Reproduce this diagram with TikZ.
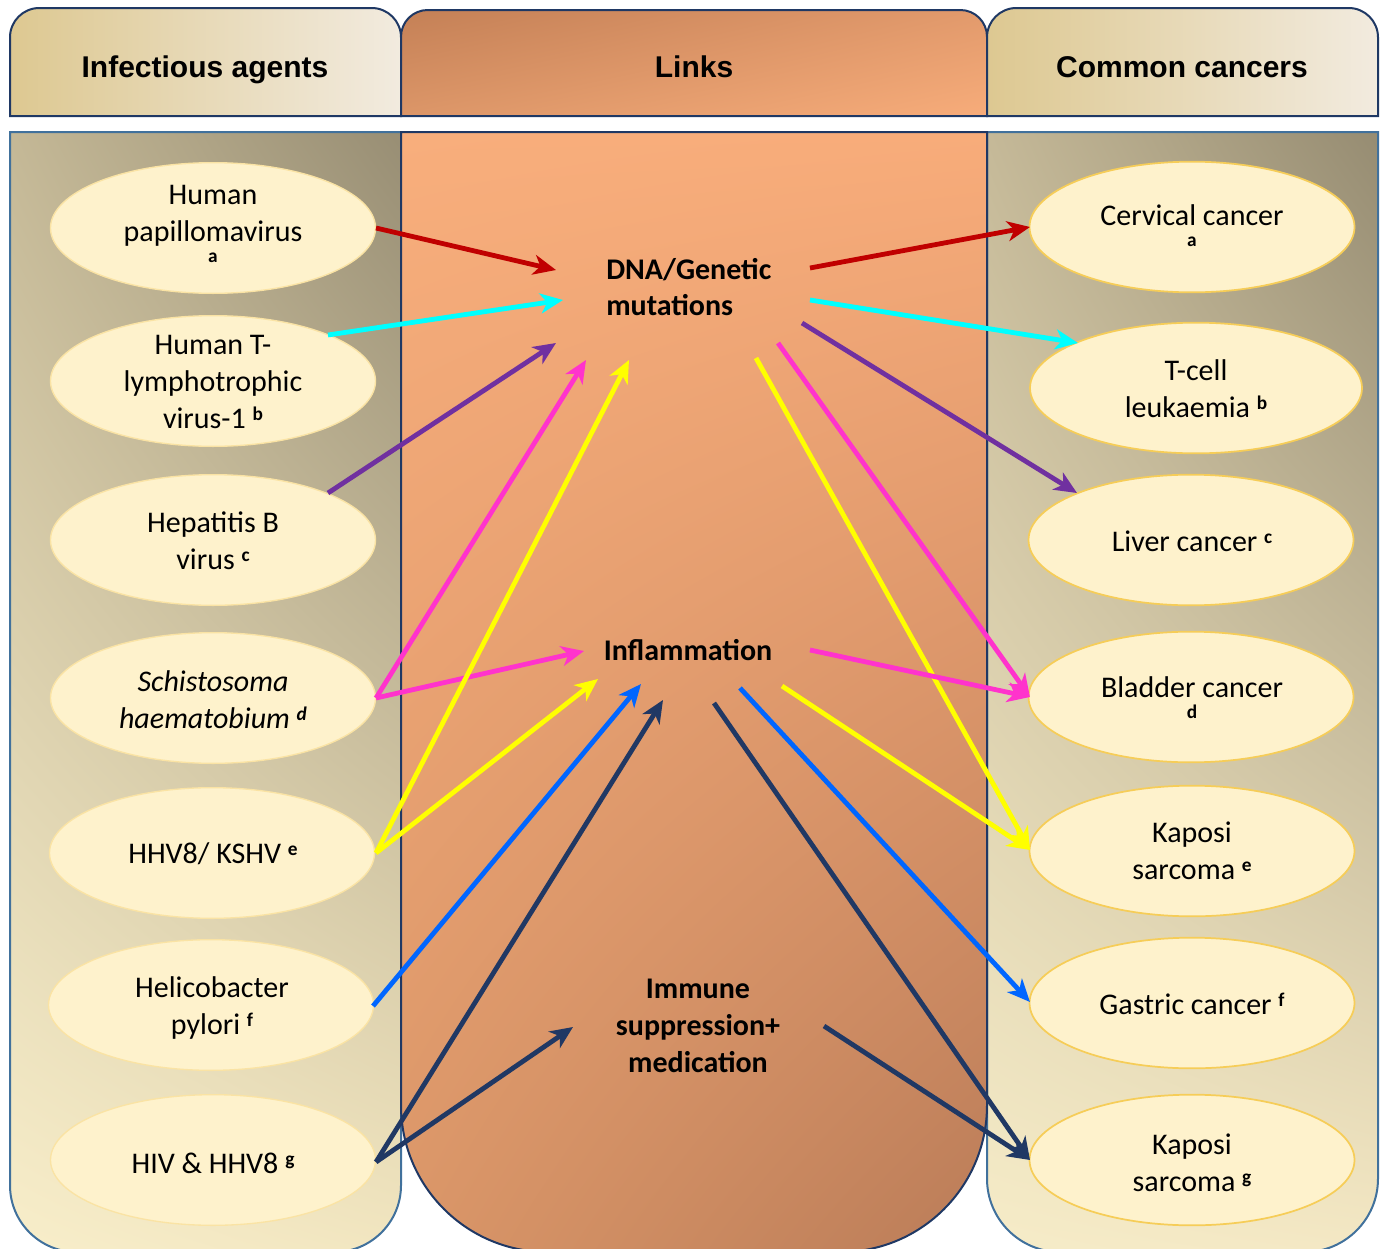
\documentclass[tikz,border=0pt]{standalone}
\usepackage{fontspec}
\setmainfont{Carlito}
\newfontfamily\hdrfont{Liberation Sans}
\usetikzlibrary{arrows.meta,shapes.geometric,shadings}
\definecolor{navy}{HTML}{1F3864}
\definecolor{pblue}{HTML}{41719C}
\definecolor{ellfill}{HTML}{FEF2CC}
\definecolor{ellL}{HTML}{FAE3A4}
\definecolor{ellR}{HTML}{F6CD58}
\definecolor{cred}{HTML}{C00000}
\definecolor{ccyan}{HTML}{00FFFF}
\definecolor{cpurple}{HTML}{7030A0}
\definecolor{cmag}{HTML}{FF33CC}
\definecolor{cyel}{HTML}{FFFF00}
\definecolor{cblue}{HTML}{0066FF}
\definecolor{cnavy}{HTML}{203864}
% shading colours
\definecolor{hL}{RGB}{221,200,145}
\definecolor{hR}{RGB}{242,235,223}
\definecolor{mhUL}{RGB}{196,128,86}
\definecolor{mhUR}{RGB}{226,154,108}
\definecolor{mhLL}{RGB}{220,150,104}
\definecolor{mhLR}{RGB}{247,172,122}
\definecolor{lpUL}{RGB}{196,184,150}
\definecolor{lpUR}{RGB}{152,142,116}
\definecolor{lpLL}{RGB}{248,238,202}
\definecolor{lpLR}{RGB}{242,230,192}
\definecolor{rpUL}{RGB}{197,185,152}
\definecolor{rpUR}{RGB}{150,140,114}
\definecolor{rpLL}{RGB}{246,236,200}
\definecolor{rpLR}{RGB}{244,232,196}
\definecolor{mpUL}{RGB}{248,174,124}
\definecolor{mpUR}{RGB}{248,172,122}
\definecolor{mpLL}{RGB}{218,150,104}
\definecolor{mpLR}{RGB}{186,124,88}
\newcommand\supx[1]{\raisebox{0.55ex}{\fontsize{14.5}{14.5}\selectfont\bfseries #1}}
\begin{document}
\begin{tikzpicture}[x=0.75pt,y=-0.75pt,
  lell/.style={ellipse, minimum width=243.75pt, minimum height=98pt, inner sep=0pt, fill=ellfill, draw=ellL, line width=1pt},
  rell/.style={ellipse, minimum width=243.75pt, minimum height=98pt, inner sep=0pt, fill=ellfill, draw=ellR, line width=1.3pt},
  etext/.style={align=center, inner sep=0pt, font=\fontsize{22.5}{27.5}\selectfont},
  stext/.style={inner sep=0pt, font=\fontsize{14.5}{14.5}\selectfont\bfseries},
  mtext/.style={inner sep=0pt, font=\fontsize{22.5}{27.5}\selectfont\bfseries},
  hdr/.style={inner sep=0pt, anchor=base, font=\hdrfont\bfseries\fontsize{22.5}{27}\selectfont},
  arr/.style={line width=3.6pt, -{Stealth[length=17pt,width=15pt,inset=5pt]}},
  pborder/.style={line width=1.5pt}]
\useasboundingbox (0,0) rectangle (1382,1249);

% ---------- headers ----------
\shade[left color=hL, right color=hR, draw=navy, pborder]
  (10,116) [rounded corners=22] -- (10,8) -- (401,8) [sharp corners] -- (401,116) -- cycle;
\shade[upper left=mhUL, upper right=mhUR, lower left=mhLL, lower right=mhLR, draw=navy, pborder]
  (401,116) [rounded corners=20] -- (401,10) -- (987,10) [sharp corners] -- (987,116) -- cycle;
\shade[left color=hL, right color=hR, draw=navy, pborder]
  (987,116) [rounded corners=22] -- (987,8) -- (1378,8) [sharp corners] -- (1378,116) -- cycle;
\node[hdr] (h1) at (205,77) {Infectious agents};
\node[hdr] (h2) at (694,77) {Links};
\node[hdr] (h3) at (1182,77) {Common cancers};

% ---------- body panels ----------
\shade[upper left=lpUL, upper right=lpUR, lower left=lpLL, lower right=lpLR, draw=pblue, pborder]
  (10,132) [rounded corners=50] -- (10,1252) -- (401,1252) [sharp corners] -- (401,132) -- cycle;
\shade[upper left=rpUL, upper right=rpUR, lower left=rpLL, lower right=rpLR, draw=pblue, pborder]
  (987,132) [rounded corners=55] -- (987,1252) -- (1378,1252) [sharp corners] -- (1378,132) -- cycle;
\shade[upper left=mpUL, upper right=mpUR, lower left=mpLL, lower right=mpLR, draw=navy, pborder]
  (401,132) [rounded corners=110] -- (401,1252) -- (987,1252) [sharp corners] -- (987,132) -- cycle;

% ---------- left ellipses ----------
\node[lell] (hpv) at (213,228) {};
\node[lell] (htlv) at (213,381) {};
\node[lell] (hbv) at (213,540) {};
\node[lell] (schisto) at (213,698) {};
\node[lell] (hhv) at (212,853) {};
\node[lell] (pylori) at (211,1005) {};
\node[lell] (hiv) at (213,1160) {};

\node[etext] (hpvT) at (213,216) {Human\\papillomavirus};
\node[stext] (hpvS) at (213,258) {a};
\node[etext] (htlvT) at (213,382) {Human T-\\lymphotrophic\\virus-1 \supx{b}};
\node[etext] (hbvT) at (213,541) {Hepatitis B\\virus \supx{c}};
\node[etext] (schT) at (213,700) {\itshape Schistosoma\\\itshape haematobium \supx{\itshape d}};
\node[etext] (hhvT) at (213,854) {HHV8/ KSHV \supx{e}};
\node[etext] (pylT) at (212,1008) {Helicobacter\\pylori \supx{f}};
\node[etext] (hivT) at (213,1163) {HIV \& HHV8 \supx{g}};

% ---------- right ellipses ----------
\node[rell] (cerv) at (1192,227) {};
\node[rell, minimum width=249pt] (tcell) at (1196,388) {};
\node[rell] (liver) at (1191,540) {};
\node[rell] (bladder) at (1191,697) {};
\node[rell] (kap1) at (1192,851) {};
\node[rell] (gast) at (1192,1003) {};
\node[rell] (kap2) at (1192,1160) {};

\node[etext] (cervT) at (1192,215) {Cervical cancer};
\node[stext] (cervS) at (1192,242) {a};
\node[etext] (tcellT) at (1196,389) {T-cell\\leukaemia \supx{b}};
\node[etext] (liverT) at (1192,541) {Liver cancer \supx{c}};
\node[etext] (bladT) at (1192,687) {Bladder cancer};
\node[stext] (bladS) at (1192,712) {d};
\node[etext] (kap1T) at (1192,851) {Kaposi\\sarcoma \supx{e}};
\node[etext] (gastT) at (1192,1004) {Gastric cancer \supx{f}};
\node[etext] (kap2T) at (1192,1163) {Kaposi\\sarcoma \supx{g}};

% ---------- middle texts ----------
\node[mtext, align=left, anchor=west] (dna) at (606,287) {DNA/Genetic\\mutations};
\node[mtext] (infl) at (688,650) {Inflammation};
\node[mtext, align=center] (imm) at (698,1026) {Immune\\suppression+\\medication};

% ---------- connector end points ----------
\coordinate (dRedIn) at (556,270);
\coordinate (dCyIn) at (563,300);
\coordinate (dPuIn) at (556,343);
\coordinate (dMaIn) at (586,360);
\coordinate (dYeIn) at (629,360);
\coordinate (dRedOut) at (810,268);
\coordinate (dCyOut) at (810,300);
\coordinate (dPuOut) at (802,323);
\coordinate (dMaOut) at (778,343);
\coordinate (dYeOut) at (756,358);
\coordinate (iMaIn) at (584,651);
\coordinate (iYeIn) at (598,679);
\coordinate (iBlIn) at (641,684);
\coordinate (iNaIn) at (663,700);
\coordinate (iMaOut) at (810,650);
\coordinate (iYeOut) at (782,686);
\coordinate (iBlOut) at (740,688);
\coordinate (iNaOut) at (714,703);
\coordinate (mNaIn) at (573,1027);
\coordinate (mNaOut) at (824,1026);
\coordinate (htlvR) at (328,335);
\coordinate (hbvR) at (328,493);
\coordinate (tcellL) at (1078,343);
\coordinate (liverL) at (1077,493);
\coordinate (bladL) at (1030,697);
\coordinate (kap1L) at (1030,850);
\coordinate (gastL) at (1030,1002);
\coordinate (kap2L) at (1030,1160);
\coordinate (hpvR) at (376,228);
\coordinate (schR) at (376,698);
\coordinate (hhvR) at (376,853);
\coordinate (pylR) at (373,1006);
\coordinate (hivR) at (376,1162);
\coordinate (cervL) at (1030,227);

% ---------- connectors ----------
\draw[arr, cred] (hpvR) -- (dRedIn);
\draw[arr, cred] (dRedOut) -- (cervL);
\draw[arr, ccyan] (htlvR) -- (dCyIn);
\draw[arr, ccyan] (dCyOut) -- (tcellL);
\draw[arr, cpurple] (hbvR) -- (dPuIn);
\draw[arr, cpurple] (dPuOut) -- (liverL);
\draw[arr, cmag] (schR) -- (dMaIn);
\draw[arr, cmag] (schR) -- (iMaIn);
\draw[arr, cmag] (dMaOut) -- (bladL);
\draw[arr, cyel] (hhvR) -- (dYeIn);
\draw[arr, cyel] (hhvR) -- (iYeIn);
\draw[arr, cyel] (dYeOut) -- (kap1L);
\draw[arr, cyel] (iYeOut) -- (kap1L);
\draw[arr, cmag] (iMaOut) -- (bladL);
\draw[arr, cblue] (pylR) -- (iBlIn);
\draw[arr, cblue] (iBlOut) -- (gastL);
\draw[arr, cnavy] (hivR) -- (iNaIn);
\draw[arr, cnavy] (hivR) -- (mNaIn);
\draw[arr, cnavy] (iNaOut) -- (kap2L);
\draw[arr, cnavy] (mNaOut) -- (kap2L);
\end{tikzpicture}
\end{document}
